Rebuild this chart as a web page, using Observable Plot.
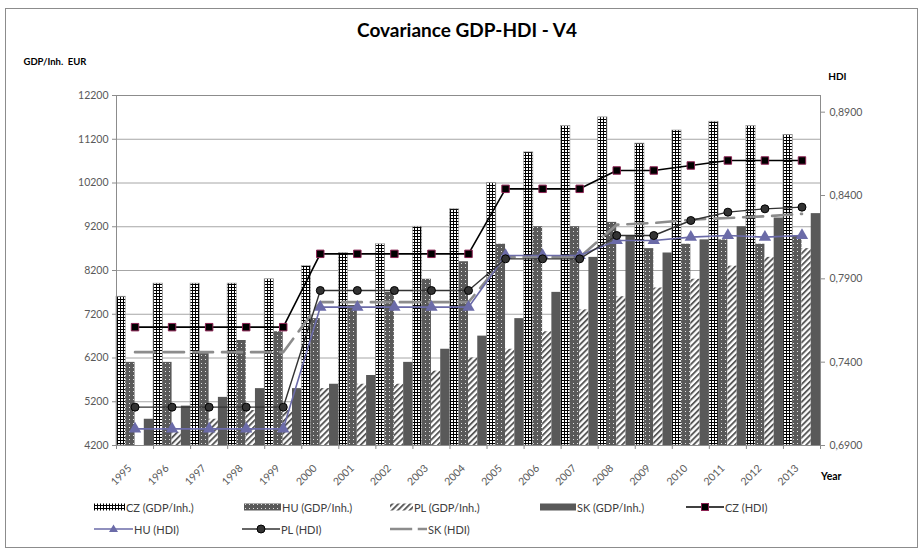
<!DOCTYPE html>
<html><head><meta charset="utf-8">
<script src="https://cdn.jsdelivr.net/npm/d3@7"></script>
<script src="https://cdn.jsdelivr.net/npm/@observablehq/plot@0.6"></script>
<style>
body{margin:0;background:#fff;font-family:Lato,"Open Sans",sans-serif;}
#wrap{position:relative;width:923px;height:550px;overflow:hidden;background:#fff;}
#frame{position:absolute;left:5px;top:8px;width:913px;height:540px;border:1px solid #8c8c8c;box-sizing:border-box;}
#title{position:absolute;left:0;width:934px;top:19px;text-align:center;font-weight:700;font-size:19px;color:#000;line-height:22px;}
#chart{position:absolute;left:0;top:50px;}
.lg{position:absolute;height:16px;font-size:11px;color:#404040;display:flex;align-items:center;white-space:nowrap;}
.lg svg{display:block;margin-right:1px;}
</style></head>
<body>
<div id="wrap">
  <div id="frame"></div>
  <div id="title">Covariance GDP-HDI - V4</div>
  <div id="chart"></div>
  <div id="legend"></div>
</div>
<script>
// ---- data ----
const years = [1995,1996,1997,1998,1999,2000,2001,2002,2003,2004,2005,2006,2007,2008,2009,2010,2011,2012,2013];
const czGdp = [7600,7900,7900,7900,8000,8300,8600,8800,9200,9600,10200,10900,11500,11700,11100,11400,11600,11500,11300];
const huGdp = [6100,6100,6300,6600,6800,7100,7400,7700,8000,8400,8800,9200,9200,9300,8700,8800,8900,8800,9000];
const plGdp = [4200,4500,4800,5000,5000,5500,5600,5600,5900,6200,6400,6800,7300,7600,7800,8000,8300,8500,8700];
const skGdp = [4800,5100,5300,5500,5500,5600,5800,6100,6400,6700,7100,7700,8500,9000,8600,8900,9200,9400,9500];
const czHdi = [0.761,0.761,0.761,0.761,0.761,0.805,0.805,0.805,0.805,0.805,0.844,0.844,0.844,0.855,0.855,0.858,0.861,0.861,0.861];
const huHdi = [0.700,0.700,0.700,0.700,0.700,0.773,0.773,0.773,0.773,0.773,0.804,0.804,0.804,0.813,0.813,0.815,0.816,0.815,0.816];
const plHdi = [0.713,0.713,0.713,0.713,0.713,0.783,0.783,0.783,0.783,0.783,0.802,0.802,0.802,0.816,0.816,0.825,0.830,0.832,0.833];
const skHdi = [0.746,0.746,0.746,0.746,0.746,0.776,0.776,0.776,0.776,0.776,0.803,0.803,0.803,0.8225,0.8235,0.8255,0.8265,0.8275,0.829];
const gdpTicks = [4200,5200,6200,7200,8200,9200,10200,11200,12200];
const hdiTicks = [0.69,0.74,0.79,0.84,0.89];
const gdpDomain = [4200,12200];
const hdiDomain = [0.69,0.90];

// map HDI onto the GDP (left) scale for the secondary axis
const toY = h => gdpDomain[0] + (h - hdiDomain[0]) / (hdiDomain[1] - hdiDomain[0]) * (gdpDomain[1] - gdpDomain[0]);
const fromY = v => hdiDomain[0] + (v - gdpDomain[0]) / (gdpDomain[1] - gdpDomain[0]) * (hdiDomain[1] - hdiDomain[0]);

const bars = [
  {values: czGdp, fill: "url(#pCZ)", stroke: "#a0a0a0"},
  {values: huGdp, fill: "url(#pHU)", stroke: "none"},
  {values: plGdp, fill: "url(#pPL)", stroke: "none"},
  {values: skGdp, fill: "#595959", stroke: "none"}
];
const series = [
  {values: skHdi, stroke: "#8c8c8c", width: 2.6, dash: "20,9", symbol: null},
  {values: huHdi, stroke: "#6b6ba8", width: 1.6, dash: null, symbol: "triangle", r: 4.6, fill: "#6b6ba8", mstroke: "none"},
  {values: plHdi, stroke: "#333333", width: 1.4, dash: null, symbol: "circle", r: 4, fill: "#333333", mstroke: "#000"},
  {values: czHdi, stroke: "#000000", width: 1.6, dash: null, symbol: "square", r: 4.2, fill: "#000", mstroke: "#8b2252"}
];
const boundaries = years.map(y => y - 0.5).concat([years[years.length - 1] + 0.5]);

const marks = [
  Plot.ruleY(gdpTicks, {stroke: "#a6a6a6", strokeWidth: 1})
];
bars.forEach((b, k) => {
  const rows = years.map((yr, i) => ({year: yr, v: b.values[i]}));
  marks.push(Plot.rectY(rows, {
    x1: d => d.year - 0.5 + k / 4,
    x2: d => d.year - 0.5 + (k + 1) / 4,
    y1: gdpDomain[0], y2: "v",
    fill: b.fill, stroke: b.stroke, strokeWidth: 0.7
  }));
});
marks.push(
  Plot.frame({stroke: "#8c8c8c"}),
  Plot.axisY({anchor: "left", ticks: gdpTicks, tickSize: 4, tickPadding: 4, tickFormat: d => String(d), stroke: "#8c8c8c", fill: "#595959", label: null}),
  Plot.axisY({anchor: "right", ticks: hdiTicks.map(toY), tickSize: 4, tickPadding: 5, tickFormat: v => d3.format(".4f")(fromY(v)).replace(".", ","), stroke: "#8c8c8c", fill: "#595959", label: null}),
  Plot.axisX({ticks: boundaries, tickSize: 4, tickFormat: () => "", stroke: "#8c8c8c", label: null}),
  Plot.text(years, {x: d => d, text: d => String(d), frameAnchor: "bottom", rotate: -45, textAnchor: "end", lineAnchor: "middle", dx: -5, dy: 21, fill: "#595959", fontSize: 10.5})
);
series.forEach(s => {
  const rows = years.map((yr, i) => ({year: yr, h: s.values[i]}));
  marks.push(Plot.line(rows, {x: "year", y: d => toY(d.h), stroke: s.stroke, strokeWidth: s.width, strokeDasharray: s.dash}));
  if (s.symbol) marks.push(Plot.dot(rows, {x: "year", y: d => toY(d.h), symbol: s.symbol, r: s.r, fill: s.fill, stroke: s.mstroke, strokeWidth: 1}));
});
marks.push(
  Plot.text(["GDP/Inh.\u00a0\u00a0EUR"], {text: d => d, frameAnchor: "top-left", dx: -93, dy: -37, textAnchor: "start", fontWeight: "bold", fontSize: 9.5, fill: "#000"}),
  Plot.text(["HDI"], {text: d => d, frameAnchor: "top-right", dx: 26, dy: -23, fontWeight: "bold", fontSize: 10, fill: "#000"}),
  Plot.text(["Year"], {text: d => d, frameAnchor: "bottom-right", dx: 21, dy: 34, fontWeight: "bold", fontSize: 10.5, fill: "#000"})
);

const plot = Plot.plot({
  width: 923, height: 440,
  marginTop: 45, marginBottom: 45, marginLeft: 116, marginRight: 103,
  style: {fontFamily: "Lato, 'Open Sans', sans-serif", fontSize: "10.5px", background: "transparent", color: "#595959", overflow: "visible"},
  x: {domain: [years[0] - 0.5, years[years.length - 1] + 0.5]},
  y: {domain: gdpDomain},
  marks
});

const defs = document.createElementNS("http://www.w3.org/2000/svg", "defs");
defs.innerHTML = `
  <pattern id="pCZ" patternUnits="userSpaceOnUse" width="3" height="3">
    <rect width="3" height="3" fill="#fff"/>
    <path d="M0 0.5H3M0.5 0V3" stroke="#000" stroke-width="1"/>
  </pattern>
  <pattern id="pHU" patternUnits="userSpaceOnUse" width="4" height="4">
    <rect width="4" height="4" fill="#595959"/>
    <rect x="1" y="1" width="1" height="1" fill="#e0e0e0"/>
  </pattern>
  <pattern id="pPL" patternUnits="userSpaceOnUse" width="4.2" height="4.2" patternTransform="rotate(45)">
    <rect width="4.2" height="4.2" fill="#fff"/>
    <rect width="1.9" height="4.2" fill="#595959"/>
  </pattern>`;
plot.insertBefore(defs, plot.firstChild);
document.getElementById("chart").append(plot);

// ---- legend ----
const legendItems = [
  {label: "CZ (GDP/Inh.)", kind: "bar", fill: "url(#pCZ)", x: 94, y: 507, w: 31},
  {label: "HU (GDP/Inh.)", kind: "bar", fill: "url(#pHU)", x: 244, y: 507, w: 37},
  {label: "PL (GDP/Inh.)", kind: "bar", fill: "url(#pPL)", x: 390, y: 507, w: 23},
  {label: "SK (GDP/Inh.)", kind: "bar", fill: "#595959", x: 540, y: 507, w: 36},
  {label: "CZ (HDI)", kind: "line", s: series[3], x: 686, y: 507, w: 38},
  {label: "HU (HDI)", kind: "line", s: series[1], x: 94, y: 529, w: 39},
  {label: "PL (HDI)", kind: "line", s: series[2], x: 242, y: 529, w: 38},
  {label: "SK (HDI)", kind: "line", s: series[0], x: 390, y: 529, w: 37}
];
const lg = document.getElementById("legend");
legendItems.forEach(it => {
  const div = document.createElement("div");
  div.className = "lg";
  div.style.left = it.x + "px";
  div.style.top = (it.y - 8) + "px";
  let sw = "";
  if (it.kind === "bar") {
    sw = `<rect x="0" y="4.5" width="${it.w}" height="7" fill="${it.fill}"/>`;
  } else {
    const s = it.s;
    sw = `<line x1="0" x2="${it.w}" y1="8" y2="8" stroke="${s.stroke}" stroke-width="${s.width}" ${s.dash ? `stroke-dasharray="${it.w * 0.6},${it.w * 0.15}"` : ""}/>`;
    const c = it.w / 2;
    if (s.symbol === "square") sw += `<rect x="${c - 3.5}" y="4.5" width="7" height="7" fill="${s.fill}" stroke="${s.mstroke}"/>`;
    if (s.symbol === "circle") sw += `<circle cx="${c}" cy="8" r="4" fill="${s.fill}" stroke="${s.mstroke}"/>`;
    if (s.symbol === "triangle") sw += `<path d="M${c},3.5L${c + 4.5},11L${c - 4.5},11Z" fill="${s.fill}"/>`;
  }
  div.innerHTML = `<svg width="${it.w}" height="16">${sw}</svg><span>${it.label}</span>`;
  lg.append(div);
});
</script>
</body></html>
